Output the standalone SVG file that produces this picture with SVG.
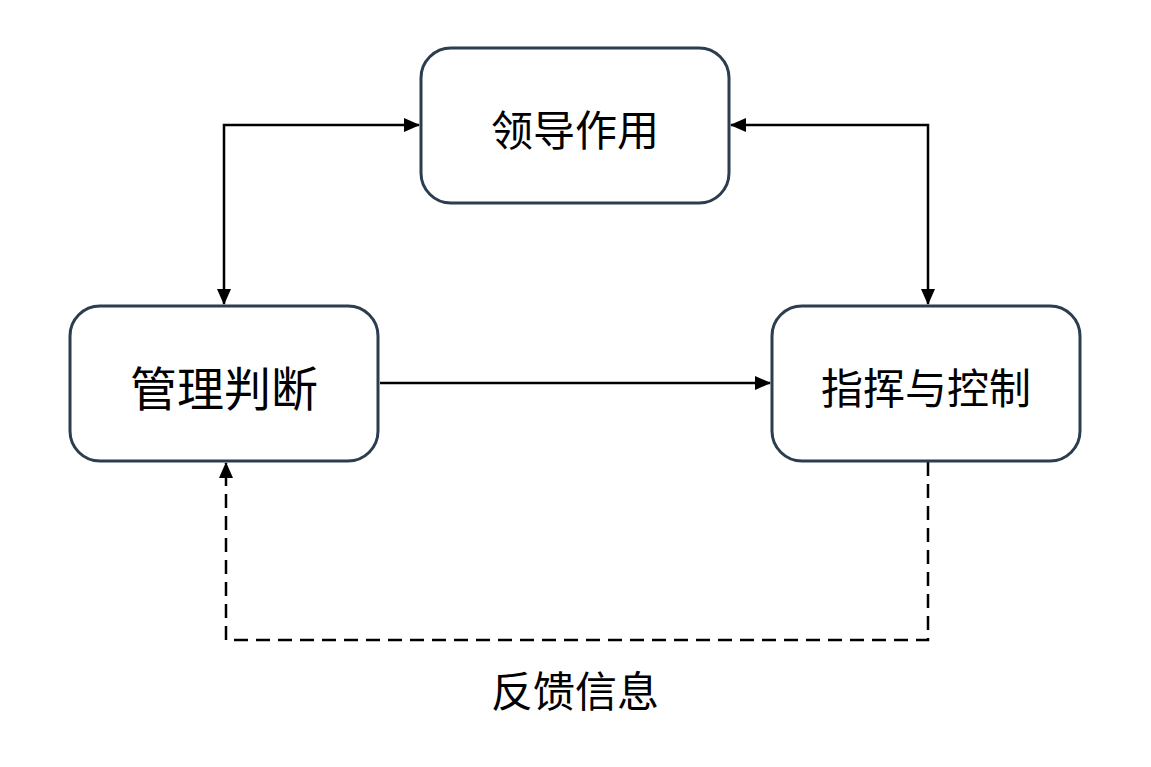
<svg xmlns="http://www.w3.org/2000/svg" width="1151" height="767" viewBox="0 0 1151 767">
<style>
.box{fill:#fff;stroke:#2b3d4f;stroke-width:3}
.t{font-family:"Noto Sans CJK SC",sans-serif;fill:#000;text-anchor:middle;dominant-baseline:central}
.c{fill:none;stroke:#000;stroke-width:2.5}
</style>
<defs>
<marker id="b" markerWidth="16" markerHeight="16" refX="15" refY="8" orient="auto-start-reverse" markerUnits="userSpaceOnUse" viewBox="0 0 16 16"><path d="M0,1L16,8L0,15z" fill="#000"/></marker>
</defs>
<rect width="1151" height="767" fill="#fff"/>
<g id="connectors">
<path class="c" d="M419,125H224V304" marker-start="url(#b)" marker-end="url(#b)"/>
<path class="c" d="M731,125H928V304" marker-start="url(#b)" marker-end="url(#b)"/>
<path class="c" d="M380,383H770" marker-end="url(#b)"/>
<path class="c" d="M928,462V640H226V463" stroke-width="3" stroke-dasharray="14,8" marker-end="url(#b)"/>
<text class="t" x="575" y="688" font-size="42">反馈信息</text>
</g>
<g id="n1"><rect class="box" x="421" y="48" width="308" height="155" rx="30"/><text class="t" x="575" y="127" font-size="42">领导作用</text></g>
<g id="n2"><rect class="box" x="70" y="306" width="308" height="155" rx="30"/><text class="t" x="224" y="385" font-size="47">管理判断</text></g>
<g id="n3"><rect class="box" x="772" y="306" width="308" height="155" rx="30"/><text class="t" x="926" y="385" font-size="42">指挥与控制</text></g>
</svg>
